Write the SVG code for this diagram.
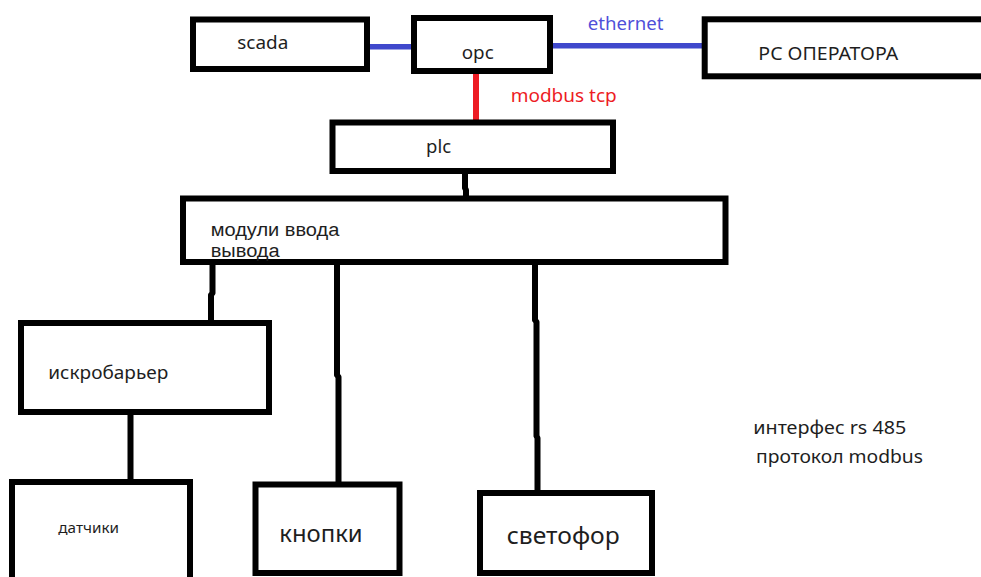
<svg xmlns="http://www.w3.org/2000/svg" width="981" height="577" viewBox="0 0 981 577">
  <style>
    .box { fill: #ffffff; stroke: #000000; stroke-width: 6; }
    .t { font-family: "Noto Sans", "Open Sans", sans-serif; font-size: 18.5px; fill: #1e1e1e; }
    .tm { font-family: "Liberation Sans", "Noto Sans", sans-serif; font-size: 18px; fill: #1e1e1e; }
    .wire { fill: none; stroke: #000000; stroke-width: 6; stroke-linecap: round; stroke-linejoin: round; }
    .eth { fill: none; stroke: #3f48cc; stroke-width: 5.5; stroke-linecap: round; }
    .mb { fill: none; stroke: #ed1c24; stroke-width: 6; }
  </style>
  <rect width="981" height="577" fill="#ffffff"/>

  <g id="connectors">
    <path class="eth" d="M364,46.7 H421.7"/>
    <path class="eth" d="M551.7,45.7 H705.7"/>
    <path class="mb" d="M476,71 V125"/>
    <path class="wire" d="M465,171 V188 L466,190 V198"/>
    <path class="wire" d="M212.5,262 V293 L211,295 V323"/>
    <path class="wire" d="M337,262 V375 L338.5,377 V484"/>
    <path class="wire" d="M535,262 V320 L536.5,322 V436 L537.5,438 V493"/>
    <path class="wire" d="M130.5,412 V482"/>
  </g>

  <g id="scada">
    <rect class="box" x="193" y="19.5" width="174" height="49.5"/>
    <text class="t" x="237.3" y="49.3" textLength="51" lengthAdjust="spacingAndGlyphs">scada</text>
  </g>

  <g id="opc">
    <rect class="box" x="414" y="18" width="136" height="53"/>
    <text class="t" x="461.7" y="59.3" textLength="32" lengthAdjust="spacingAndGlyphs">opc</text>
  </g>

  <g id="pc-operator">
    <rect class="box" x="704.7" y="19.3" width="300" height="57"/>
    <text class="t" x="758.3" y="60" textLength="140" lengthAdjust="spacingAndGlyphs">PC ОПЕРАТОРА</text>
  </g>

  <text class="t" x="587.7" y="30" style="fill:#4f4fd9" textLength="75.7" lengthAdjust="spacingAndGlyphs">ethernet</text>
  <text class="t" x="510.7" y="102.3" style="fill:#ed1c24" textLength="106" lengthAdjust="spacingAndGlyphs">modbus tcp</text>

  <g id="plc">
    <rect class="box" x="332.5" y="122.5" width="280.5" height="48.5"/>
    <text class="t" x="426" y="152.7">plc</text>
  </g>

  <g id="modules">
    <rect class="box" x="183" y="198.5" width="542.5" height="63.5"/>
    <text class="tm" x="210.7" y="236" textLength="128.7" lengthAdjust="spacingAndGlyphs">модули ввода</text>
    <text class="tm" x="210.7" y="256.7" textLength="69" lengthAdjust="spacingAndGlyphs">вывода</text>
  </g>

  <g id="iskrobarier">
    <rect class="box" x="21" y="323" width="248" height="89"/>
    <text class="t" x="48.3" y="379" textLength="120" lengthAdjust="spacingAndGlyphs">искробарьер</text>
  </g>

  <g id="datchiki">
    <rect class="box" x="12" y="482" width="178" height="130"/>
    <text class="t" x="58.3" y="532.7" style="font-size:15px" textLength="60.7" lengthAdjust="spacingAndGlyphs">датчики</text>
  </g>

  <g id="knopki">
    <rect class="box" x="255.5" y="484.5" width="144" height="88.5"/>
    <text class="t" x="279.3" y="541.7" style="font-size:23.5px" textLength="83.3" lengthAdjust="spacingAndGlyphs">кнопки</text>
  </g>

  <g id="svetofor">
    <rect class="box" x="480" y="493" width="172" height="80"/>
    <text class="t" x="506.7" y="544.3" style="font-size:24px" textLength="113" lengthAdjust="spacingAndGlyphs">светофор</text>
  </g>

  <text class="t" x="753.3" y="434.3" textLength="153" lengthAdjust="spacingAndGlyphs">интерфес rs 485</text>
  <text class="t" x="756" y="463.3" textLength="167" lengthAdjust="spacingAndGlyphs">протокол modbus</text>
</svg>
